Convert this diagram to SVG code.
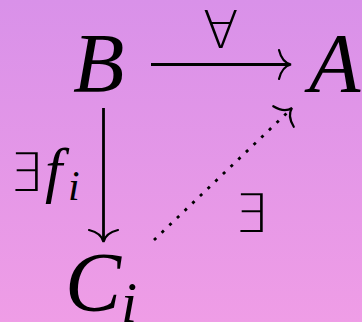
<svg xmlns="http://www.w3.org/2000/svg" width="362" height="322" viewBox="0 0 362 322">
<defs>
<linearGradient id="bg" x1="0" y1="0" x2="0" y2="1">
<stop offset="0" stop-color="#d991e9"/>
<stop offset="1" stop-color="#ef9de6"/>
</linearGradient>
<path id="head" d="M-12,-14.5 Q-9,-2 0,0 Q-9,2 -12,14.5" fill="none" stroke="#000" stroke-width="2.2" stroke-linecap="round"/>
</defs>
<style>
.m{font-family:"Liberation Serif","Times New Roman",serif;font-style:italic;fill:#000}
.s{font-family:"DejaVu Sans",sans-serif;font-weight:200;font-style:normal;fill:#000}
.ln{stroke:#000;stroke-width:2.8;fill:none}
</style>
<rect width="362" height="322" fill="url(#bg)"/>
<g id="node-B"><text class="m" x="73" y="92" font-size="84">B</text></g>
<g id="node-A"><text class="m" x="309" y="92" font-size="84">A</text></g>
<g id="node-Ci"><text class="m" x="65" y="311" font-size="84">C<tspan font-size="58" dy="11">i</tspan></text></g>
<g id="connectors">
<g id="edge-BA">
<line class="ln" x1="151" y1="64.5" x2="290" y2="64.5"/>
<use href="#head" transform="translate(291,64.5)"/>
<text class="s" x="203" y="48" font-size="52">∀</text>
</g>
<g id="edge-BC">
<line class="ln" x1="103.5" y1="108" x2="103.5" y2="240"/>
<use href="#head" transform="translate(103.5,242) rotate(90)"/>
<text class="s" x="9" y="191" font-size="53">∃</text>
<text class="m" x="45" y="191" font-size="62">f<tspan font-size="42" x="68" dy="9">i</tspan></text>
</g>
<g id="edge-CA">
<line class="ln" x1="154" y1="240" x2="289" y2="111" stroke-dasharray="3 7.6"/>
<use href="#head" transform="translate(292,108) rotate(-45)"/>
<text class="s" x="234" y="232" font-size="53">∃</text>
</g>
</g>
</svg>
